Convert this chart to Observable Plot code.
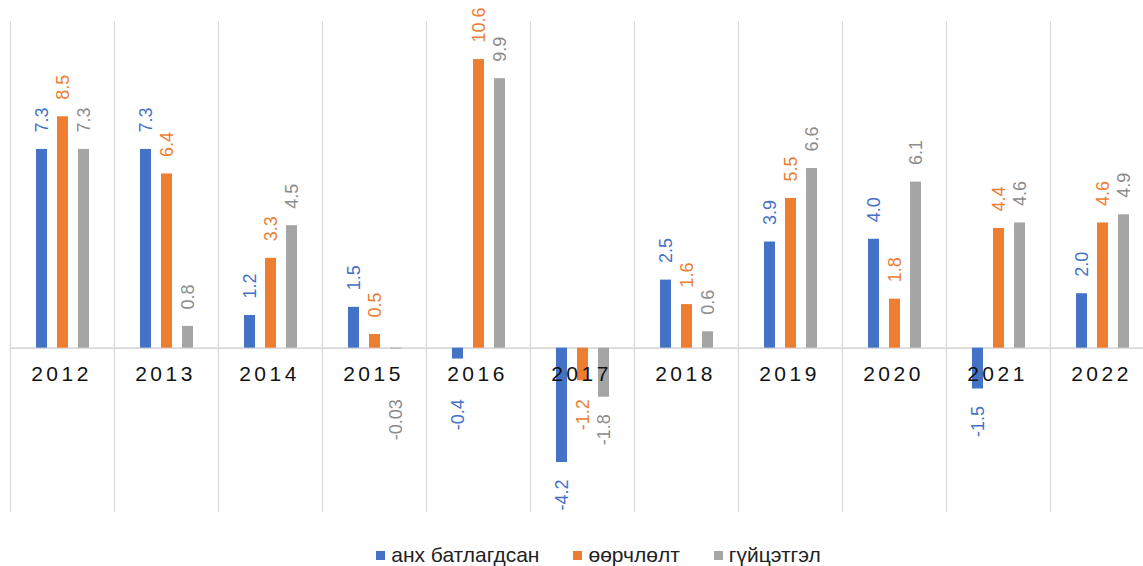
<!DOCTYPE html>
<html>
<head>
<meta charset="utf-8">
<script src="https://cdn.jsdelivr.net/npm/d3@7"></script>
<script src="https://cdn.jsdelivr.net/npm/@observablehq/plot@0.6"></script>
<style>
  body { margin: 0; background: #fff; font-family: Arial, "Liberation Sans", sans-serif; }
  #legend { display: flex; justify-content: center; align-items: center; height: 50px; font-size: 21px; color: #222; padding-left: 54px; }
  .item { display: flex; align-items: center; margin: 0 17px; }
  .sw { width: 9px; height: 9px; margin-right: 6px; }
</style>
</head>
<body>
<div id="chart"></div>
<div id="legend"></div>
<script>
const years = ["2012","2013","2014","2015","2016","2017","2018","2019","2020","2021","2022"];
const seriesNames = ["анх батлагдсан", "өөрчлөлт", "гүйцэтгэл"];
const colors = ["#4472C4", "#ED7D31", "#A5A5A5"];
const labelColors = ["#4472C4", "#ED7D31", "#8C8C8C"];
const initial   = [7.3, 7.3, 1.2, 1.5, -0.4, -4.2, 2.5, 3.9, 4.0, -1.5, 2.0];
const revised   = [8.5, 6.4, 3.3, 0.5, 10.6, -1.2, 1.6, 5.5, 1.8, 4.4, 4.6];
const actual    = [7.3, 0.8, 4.5, -0.03, 9.9, -1.8, 0.6, 6.6, 6.1, 4.6, 4.9];

const seriesValues = [initial, revised, actual];
const data = [];
years.forEach((yr, i) => {
  seriesNames.forEach((s, j) => {
    data.push({year: yr, series: s, value: seriesValues[j][i]});
  });
});
const fmt = v => Math.abs(v) < 0.05 ? v.toFixed(2) : v.toFixed(1);
const pos = data.filter(d => d.value >= 0);
const neg = data.filter(d => d.value < 0);

const chart = Plot.plot({
  width: 1143,
  height: 530,
  marginTop: 21,
  marginBottom: 19,
  marginLeft: 10,
  marginRight: -11,
  style: {fontFamily: "Arial, 'Liberation Sans', sans-serif", background: "#fff"},
  fx: {domain: years, padding: 0, axis: null},
  x: {domain: seriesNames, paddingInner: 0.484, paddingOuter: 1.18, axis: null},
  y: {domain: [-6, 12], axis: null},
  color: {domain: seriesNames, range: colors},
  marks: [
    Plot.frame({anchor: "left", stroke: "#D9D9D9", strokeWidth: 1.3}),
    Plot.ruleY([0], {stroke: "#D9D9D9", strokeWidth: 1.6}),
    Plot.barY(data, {fx: "year", x: "series", y: "value", fill: "series"}),
    Plot.text(pos, {fx: "year", x: "series", y: "value", text: d => fmt(d.value),
      rotate: -90, textAnchor: "start", dy: -17, fontSize: 18,
      fill: d => labelColors[seriesNames.indexOf(d.series)]}),
    Plot.text(neg, {fx: "year", x: "series", y: d => Math.min(d.value, -1.25), text: d => fmt(d.value),
      rotate: -90, textAnchor: "end", dy: 17, fontSize: 18,
      fill: d => labelColors[seriesNames.indexOf(d.series)]}),
    Plot.text(years, {fx: d => d, y: 0, text: d => d, dy: 26, dx: -1, fontSize: 21,
      fill: "#111"})
  ]
});
document.getElementById("chart").appendChild(chart);
d3.select(chart).selectAll("text")
  .filter(function() { return years.includes(this.textContent); })
  .attr("letter-spacing", "3.5px");

const legend = d3.select("#legend");
seriesNames.forEach((s, j) => {
  const it = legend.append("div").attr("class", "item");
  it.append("div").attr("class", "sw").style("background", colors[j]);
  it.append("span").text(s);
});
</script>
</body>
</html>
